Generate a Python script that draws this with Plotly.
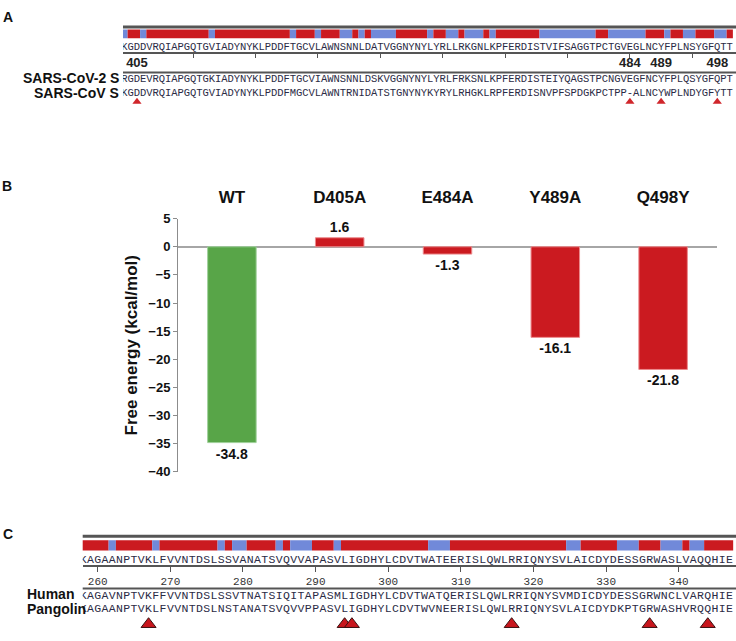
import plotly.graph_objects as go

# ---- panel A: RBD alignment SARS-CoV-2 S vs SARS-CoV S (residues 403-500)
a_first = 403
a_consensus = ("KGDDVRQIAPGQTGVIADYNYKLPDDFTGCVLAWNSNNLD"
               "ATVGGNYNYLYRLLRKGNLKPFERDISTVIFSAGGTPCTGVEGLNCYFPLNSYGFQTT")
a_sars2 = ("RGDEVRQIAPGQTGKIADYNYKLPDDFTGCVIAWNSNNLD"
           "SKVGGNYNYLYRLFRKSNLKPFERDISTEIYQAGSTPCNGVEGFNCYFPLQSYGFQPT")
a_sars1 = ("KGDDVRQIAPGQTGVIADYNYKLPDDFMGCVLAWNTRNID"
           "ATSTGNYNYKYRYLRHGKLRPFERDISNVPFSPDGKPCTPP-ALNCYWPLNDYGFYTT")
a_ticks = [414, 424, 434, 444, 454, 464, 474, 484, 494]
a_sites = [405, 484, 489, 498]

# ---- panel B: binding free energy of mutants
mutants = ["WT", "D405A", "E484A", "Y489A", "Q498Y"]
free_energy = [-34.8, 1.6, -1.3, -16.1, -21.8]

# ---- panel C: human vs pangolin alignment (residues 258-347)
c_first = 258
c_consensus = ("KAGAANPTVKLFVVNTDSLSSVANATSVQVVAPASVLIGD"
               "HYLCDVTWATEERISLQWLRRIQNYSVLAICDYDESSGRWASLVAQQHIE")
c_human = ("KAGAVNPTVKFFVVNTDSLSSVTNATSIQITAPASMLIGD"
           "HYLCDVTWATQERISLQWLRRIQNYSVMDICDYDESSGRWNCLVARQHIE")
c_pangolin = ("KAGAANPTVKLFVVNTDSLNSTANATSVQVVPPASVLIGD"
              "HYLCDVTWVNEERISLQWLRRIQNYSVLAICDYDKPTGRWASHVRQQHIE")
c_ticks = [260, 270, 280, 290, 300, 310, 320, 330, 340]
c_sites = [267, 294, 295, 317, 336, 344]

RED = "#CB1A20"
BLUE = "#7189D9"
GREEN = "#58A548"
SEQ_COLOR = "#2b2b45"
LINE = "#555555"
SANS = "Liberation Sans, Arial, sans-serif"
MONO = "Liberation Mono, Courier New, monospace"

W, H = 736, 641


def py(px):
    return 1 - px / H


def seq_row(seq, first, y, xa, ya, size):
    return go.Scatter(x=list(range(first, first + len(seq))), y=[y] * len(seq),
                      text=list(seq), mode="text", xaxis=xa, yaxis=ya,
                      textfont=dict(family=MONO, size=size, color=SEQ_COLOR),
                      hoverinfo="skip")


def identity_bar(s1, s2, first, y0, h, xa, ya):
    # merge identical / different residues into runs so the strip has no seams
    runs = []
    for i, (p, q) in enumerate(zip(s1, s2)):
        same = p == q
        if runs and runs[-1][2] == same:
            runs[-1][1] = first + i
        else:
            runs.append([first + i, first + i, same])
    return go.Bar(x=[(a + b) / 2 for a, b, _ in runs], y=[h] * len(runs), base=y0,
                  width=[b - a + 1 for a, b, _ in runs],
                  marker=dict(color=[RED if s else BLUE for _, _, s in runs], line=dict(width=0)),
                  xaxis=xa, yaxis=ya, hoverinfo="skip")


fig = go.Figure()

# panel A
fig.add_trace(identity_bar(a_sars2, a_sars1, a_first, 23, 9, "x", "y"))
fig.add_trace(seq_row(a_consensus, a_first, 41, "x", "y", 10.5))
fig.add_trace(seq_row(a_sars2, a_first, 74, "x", "y", 10.5))
fig.add_trace(seq_row(a_sars1, a_first, 88, "x", "y", 10.5))
fig.add_trace(go.Scatter(x=a_sites, y=[58] * len(a_sites), text=[str(s) for s in a_sites],
                         mode="text", xaxis="x", yaxis="y", cliponaxis=False,
                         textfont=dict(family=SANS, size=13, color="#222", weight="bold")))
fig.add_trace(go.Scatter(x=a_sites, y=[97] * len(a_sites), mode="markers", xaxis="x", yaxis="y",
                         marker=dict(symbol="triangle-up", size=8, color="#D0262B")))

# panel B
fig.add_trace(go.Bar(x=mutants, y=free_energy, xaxis="x2", yaxis="y2", width=0.45,
                     marker=dict(color=[GREEN] + [RED] * 4,
                                 line=dict(color=["#9fd09a"] + ["#ec8a8d"] * 4, width=1)),
                     text=[f"{v:.1f}" for v in free_energy], textposition="outside",
                     cliponaxis=False,
                     textfont=dict(family=SANS, size=14, color="#111", weight="bold")))

# panel C
fig.add_trace(identity_bar(c_human, c_pangolin, c_first, 546, 10.5, "x3", "y3"))
fig.add_trace(seq_row(c_consensus, c_first, 566.5, "x3", "y3", 11.5))
fig.add_trace(seq_row(c_human, c_first, 603, "x3", "y3", 11.5))
fig.add_trace(seq_row(c_pangolin, c_first, 616.5, "x3", "y3", 11.5))
fig.add_trace(go.Scatter(x=c_sites, y=[632] * len(c_sites), mode="markers", xaxis="x3", yaxis="y3",
                         marker=dict(symbol="triangle-up", size=13, color="#C8161D",
                                     line=dict(color="#3a1010", width=1))))

hline = lambda xa, ya, y, w: dict(type="line", xref=f"{xa} domain", x0=0, x1=1, yref=ya,
                                  y0=y, y1=y, line=dict(color=LINE, width=w))

fig.update_layout(
    width=W, height=H, margin=dict(l=0, r=0, t=0, b=0),
    paper_bgcolor="white", plot_bgcolor="white", showlegend=False,
    font=dict(family=SANS, color="#111"),
    xaxis=dict(domain=[123 / W, 1], range=[402.76, 501.0], anchor="free", position=py(47.5),
               showline=True, linecolor=LINE, linewidth=2, ticks="outside", ticklen=4,
               tickcolor=LINE, tickvals=a_ticks, showticklabels=False,
               showgrid=False, zeroline=False),
    yaxis=dict(domain=[py(108), 1], range=[108, 0], visible=False),
    xaxis2=dict(domain=[178 / W, 717 / W], anchor="y2", side="top", range=[-0.5, 4.5],
                showline=False, ticks="outside", ticklen=8, tickcolor="rgba(0,0,0,0)",
                tickfont=dict(family=SANS, size=17, color="#111", weight="bold"),
                showgrid=False, zeroline=False),
    yaxis2=dict(domain=[py(476), py(216.7)], anchor="x2", range=[-40, 5], dtick=5,
                showline=True, linecolor="#8c8c8c", linewidth=1, ticks="outside",
                ticklen=4, tickcolor="#8c8c8c",
                tickfont=dict(family=SANS, size=13, color="#111", weight="bold"),
                zeroline=True, zerolinecolor="#a6a6a6", zerolinewidth=2, showgrid=False,
                title=dict(text="Free energy (kcal/mol)", standoff=6,
                           font=dict(family=SANS, size=17, color="#111", weight="bold"))),
    xaxis3=dict(domain=[82.7 / W, 1], range=[257.93, 347.89], anchor="free", position=py(572.5),
                showline=True, linecolor=LINE, linewidth=2, ticks="outside", ticklen=5,
                tickcolor=LINE, tickvals=c_ticks,
                tickfont=dict(family=MONO, size=11, color="#333"),
                showgrid=False, zeroline=False),
    yaxis3=dict(domain=[0, py(528)], range=[641, 528], visible=False),
    shapes=[hline("x", "y", 20.5, 3), hline("x", "y", 67, 2),
            hline("x3", "y3", 542, 3), hline("x3", "y3", 595.5, 2)],
)

ann = dict(xref="paper", yref="paper", showarrow=False,
           font=dict(family=SANS, size=14, color="#111", weight="bold"))
for txt, x, y, xanchor in [("A", 8, 10.5, "center"), ("B", 7, 183, "center"), ("C", 8, 540, "center"),
                           ("SARS-CoV-2 S", 121, 73, "right"), ("SARS-CoV S", 121, 88.5, "right"),
                           ("Human", 25, 601, "left"), ("Pangolin", 25, 616, "left")]:
    fig.add_annotation(text=txt, x=x / W, y=py(y), xanchor=xanchor, yanchor="middle", **ann)

# the page's default body margin would shift the 736x641 figure; remove it
fig.write_html("out.html", config={"displayModeBar": False},
               post_script="document.body.style.margin='0';")
